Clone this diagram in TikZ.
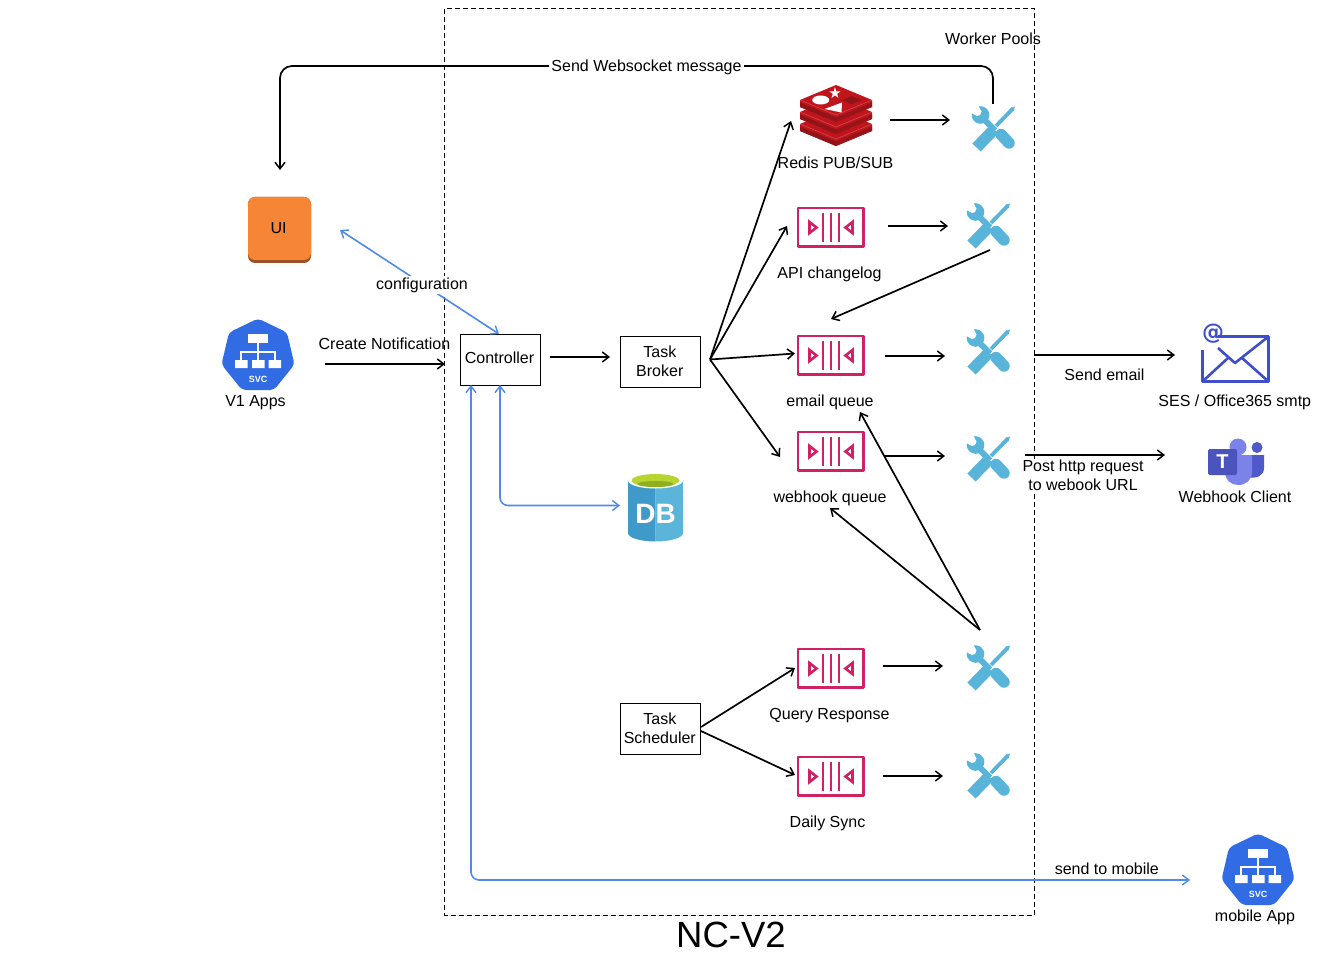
\documentclass[tikz,border=0pt]{standalone}
\usepackage{fontspec}
\setmainfont{Liberation Sans}
\newfontfamily\dejavu{DejaVu Sans}
\usetikzlibrary{arrows.meta}
\definecolor{toolblue}{HTML}{59B4D9}
\definecolor{queuepink}{HTML}{CE2264}
\definecolor{svcblue}{HTML}{326CE5}
\definecolor{linkblue}{HTML}{4F8AEB}
\definecolor{redisred}{HTML}{C1151D}
\definecolor{redisdark}{HTML}{8F1417}
\definecolor{uiorange}{HTML}{F68536}
\definecolor{uidark}{HTML}{9D5025}
\definecolor{mailblue}{HTML}{3F4FCB}
\definecolor{dbleft}{HTML}{3F9AC9}
\definecolor{dbright}{HTML}{5BB4DA}
\definecolor{dbgreen}{HTML}{B8D432}
\definecolor{dbgreendark}{HTML}{8FB01E}
\definecolor{teamslight}{HTML}{7B83EB}
\definecolor{teamsmid}{HTML}{5059C9}
\definecolor{teamsdark}{HTML}{4B53BC}
\tikzset{
 x=1pt,y=-1pt,
 every node/.style={inner sep=0pt,outer sep=0pt},
 lbl/.style={font=\fontsize{16}{19}\selectfont,align=center,text=black},
 boxnode/.style={draw=black,line width=1pt,fill=white,minimum width=80pt,minimum height=51pt},
 conn/.style={draw=black,line width=1.7pt,-{Straight Barb[length=6.5pt,width=10pt,line width=1.5pt]}},
 bluelink/.style={draw=linkblue,line width=1.6pt,{Straight Barb[length=6.5pt,width=10pt,line width=1.4pt]}-{Straight Barb[length=6.5pt,width=10pt,line width=1.4pt]},rounded corners=8pt},
 toolicon/.pic={
  \begin{scope}[shift={(-21,-22.5)},toolblue]
   \fill (8.5,8.5) circle (8.8);
   \fill[white] (-1.5,-1.5) -- (6,-1.5) -- (9.5,5) -- (8,8.5) -- (5,9.5) -- (-1.5,6) -- cycle;
   \draw[line width=6pt] (12,13) -- (23,24);
   \draw[line width=11.5pt,line cap=round] (29,28) -- (37,36.5);
   \draw[line width=3.8pt] (41,2) -- (24,19.5);
   \fill (43,0) -- (41.5,5) -- (38,1.5) -- cycle;
   \draw[line width=11.5pt] (22,23) -- (4.5,41);
  \end{scope}},
 queueicon/.pic={
  \begin{scope}[queuepink]
   \draw[line width=2.8pt,line join=round] (-33,-19) rectangle (32.5,19.5);
   \draw[line width=2.6pt] (-8,-14) -- (-8,15) (0,-14) -- (0,15) (8,-14) -- (8,15);
   \draw[line width=2.6pt,line join=miter] (-21.5,-5) -- (-14.5,0.5) -- (-21.5,6) -- cycle;
   \draw[line width=2.6pt,line join=miter] (21.5,-5) -- (14.5,0.5) -- (21.5,6) -- cycle;
  \end{scope}},
 svcicon/.pic={
  \fill[svcblue,rounded corners=4pt] (0,-37.5) -- (29,-23.5) -- (36.5,8.5) -- (16,34) -- (-16,34) -- (-36.5,8.5) -- (-29,-23.5) -- cycle;
  \fill[white] (-10,-22) rectangle (10,-13.5);
  \fill[white] (-23,4) rectangle (-10.5,12) (-6,4) rectangle (6.5,12) (10.5,4) rectangle (23,12);
  \draw[white,line width=1.2pt] (0,-13.5) -- (0,4) (-17,4) -- (-17,-4) -- (17,-4) -- (17,4);
  \node[text=white,font=\fontsize{9}{10}\selectfont\bfseries] at (0,23) {SVC};
 },
 redislayer/.pic={
  \fill[redisred] (-36,0) -- (0,-15) -- (36,0) -- (36,7) -- (0,22) -- (-36,7) -- cycle;
  \fill[redisdark] (-36,2.5) -- (0,17.5) -- (0,22) -- (-36,7) -- cycle;
  \fill[redisdark!80!redisred] (36,2.5) -- (0,17.5) -- (0,22) -- (36,7) -- cycle;
  \draw[white,opacity=.25,line width=.5pt] (-36,0) -- (0,15) -- (36,0);
 }
}
\begin{document}
\begin{tikzpicture}
\useasboundingbox (0,0) rectangle (1333,976);
\fill[white] (0,0) rectangle (1333,976);

% frame
\draw[black,line width=1pt,dash pattern=on 5pt off 3pt] (444.5,9) rectangle (1034,915);

% icons
\fill[uidark,rounded corners=7pt] (248,197) rectangle (311,263);
\fill[uiorange,rounded corners=7pt] (248,197) rectangle (311,260);
\node[lbl] (ui) at (278.5,228) {UI};
\pic at (258,356) {svcicon};
\pic at (1258,871) {svcicon};
\pic at (836,124) {redislayer};
\pic at (836,112) {redislayer};
\pic at (836,100) {redislayer};
\fill[white] (820.7,100) ellipse [x radius=8.5,y radius=4.5];
\node[text=white,font=\fontsize{15}{15}\selectfont\dejavu] at (835,93) {★};
\fill[white] (824.5,109) -- (842,102.5) -- (841.5,112.5) -- cycle;
\fill[redisdark] (842.7,100) -- (851.7,96) -- (861.7,100) -- (851.7,104.3) -- cycle;

\pic at (831,227) {queueicon};
\pic at (831,355) {queueicon};
\pic at (831,451) {queueicon};
\pic at (831,668) {queueicon};
\pic at (831,776) {queueicon};

\pic at (993,129) {toolicon};
\pic at (988,226) {toolicon};
\pic at (988,352) {toolicon};
\pic at (988,459) {toolicon};
\pic at (988,668) {toolicon};
\pic at (988,776) {toolicon};

% DB
\fill[dbleft] (628,480) -- (628,533) .. controls (628,538) and (641,541.5) .. (655.5,541.5) -- (655.5,480) -- cycle;
\fill[dbright] (683,480) -- (683,533) .. controls (683,538) and (670,541.5) .. (655.5,541.5) -- (655.5,480) -- cycle;
\fill[white] (655.5,480.5) ellipse [x radius=27.5,y radius=8];
\fill[dbgreen] (655.5,480.5) ellipse [x radius=24,y radius=6.5];
\fill[dbgreendark] (655.5,484) ellipse [x radius=18,y radius=3];
\node[text=white,font=\fontsize{28}{28}\selectfont\bfseries] (dbtxt) at (655.5,513.5) {DB};

% envelope
\begin{scope}[mailblue,line width=2.6pt,line join=round]
\draw (1218,336.5) -- (1268.5,336.5) -- (1268.5,381.5) -- (1202.5,381.5) -- (1202.5,350);
\draw (1218,348) -- (1235,363) -- (1268.5,336.5);
\draw (1202.5,381.5) -- (1228,358);
\draw (1268.5,381.5) -- (1242,358);
\node[text=mailblue,font=\fontsize{22}{22}\selectfont\dejavu\bfseries] (atsign) at (1213,334) {@};
\end{scope}

% teams
\fill[teamslight] (1238,447) circle (8.5);
\fill[teamsmid] (1257,447.5) circle (5.5);
\fill[teamsmid] (1248,455) -- (1264,455) -- (1264,468) .. controls (1264,476) and (1256,479) .. (1248,477) -- cycle;
\fill[teamslight] (1225,455) -- (1252,455) -- (1252,472) .. controls (1252,480) and (1246,485) .. (1238,485) .. controls (1231,485) and (1225,480) .. (1225,472) -- cycle;
\fill[teamsdark,rounded corners=1.5pt] (1208,449) rectangle (1237,475);
\node[text=white,font=\fontsize{20}{20}\selectfont\bfseries] (teamst) at (1222.5,462) {T};

% boxes
\node[boxnode] (controller) at (500.5,359.5) {};
\node[lbl] (ctltext) at (499.5,358) {Controller};
\node[boxnode] (broker) at (660.5,361.5) {};
\node[lbl] (brotext) at (659.8,361.5) {Task\\Broker};
\node[boxnode] (scheduler) at (660.5,728.5) {};
\node[lbl] (schtext) at (659.8,728.5) {Task\\Scheduler};

% free ends
\foreach \n/\x/\y in {
 wsstart/993/104, wscorner/993/66, wsmid/280/66, wsend/280/170,
 cnstart/325/364, cnend/445/364,
 ctlout/550/357, brokin/610/357,
 hub/710/359.5, hubredis/791/121, hubapi/787/226, hubemail/795/353.5, hubweb/780/457,
 qa1/890/120, wa1/950/120, qa2/888/226, wa2/948/226, qa3/885/356, wa3/945/356, qa4/885/456, wa4/945/456,
 qa5/883/666, wa5/943/666, qa6/883/776, wa6/943/776,
 wk2/990/250, emailin/831/319,
 wkq/980/630, emailback/860/412, webback/830/508,
 schedout1/701/727, schedout2/701/731, queryin/795/668, dailyin/795/775,
 sesstart/1034/355, sesend/1175/355, hookstart/1025/455, hookend/1165/455,
 uiarrow/340/230, dbstart/500/385, dbcorner/500/505.5, dbin/620/505.5, cfgend/499/334,
 mobstart/471/385, mobcorner/471/880, mobend/1190/880}
 {\coordinate (\n) at (\x,\y);}

% connectors
\draw[conn,rounded corners=12pt] (wsstart) -- (wscorner) -- (wsmid) -- (wsend);
\node[lbl,fill=white,inner xsep=2pt,inner ysep=1pt] (wslabel) at (646.5,67) {Send Websocket message};
\draw[conn] (cnstart) -- (cnend);
\draw[conn] (ctlout) -- (brokin);
\draw[conn] (hub) -- (hubredis);
\draw[conn] (hub) -- (hubapi);
\draw[conn] (hub) -- (hubemail);
\draw[conn] (hub) -- (hubweb);
\draw[conn] (qa1) -- (wa1);
\draw[conn] (qa2) -- (wa2);
\draw[conn] (qa3) -- (wa3);
\draw[conn] (qa4) -- (wa4);
\draw[conn] (qa5) -- (wa5);
\draw[conn] (qa6) -- (wa6);
\draw[conn] (wk2) -- (emailin);
\draw[conn] (wkq) -- (emailback);
\draw[conn] (wkq) -- (webback);
\draw[conn] (schedout1) -- (queryin);
\draw[conn] (schedout2) -- (dailyin);
\draw[conn] (sesstart) -- (sesend);
\draw[conn] (hookstart) -- (hookend);

\draw[bluelink] (uiarrow) -- (cfgend);
\node[lbl,fill=white,inner xsep=2pt,inner ysep=2pt] (cfg) at (422,285) {configuration};
\draw[bluelink] (dbstart) -- (dbcorner) -- (dbin);
\draw[bluelink] (mobstart) -- (mobcorner) -- (mobend);

% labels
\node[lbl] (wp) at (993,38.5) {Worker Pools};
\node[lbl] (redislbl) at (835.5,162.5) {Redis PUB/SUB};
\node[lbl] (apilbl) at (829.5,274) {API changelog};
\node[lbl] (emaillbl) at (830,402) {email queue};
\node[lbl] (weblbl) at (830,498) {webhook queue};
\node[lbl] (querylbl) at (829.5,716) {Query Response};
\node[lbl] (dailylbl) at (827.5,823) {Daily Sync};
\node[lbl] (cnlbl) at (384.5,343.5) {Create Notification};
\node[lbl] (v1lbl) at (255.5,403) {V1 Apps};
\node[lbl] (sendlbl) at (1104.5,374.5) {Send email};
\node[lbl] (seslbl) at (1234.8,402) {SES / Office365 smtp};
\node[lbl,fill=white,inner xsep=1pt,inner ysep=1pt] (postlbl) at (1083,475.5) {Post http request\\to webook URL};
\node[lbl] (hooklbl) at (1235,496.5) {Webhook Client};
\node[lbl] (moblbl) at (1106.8,868.5) {send to mobile};
\node[lbl] (mobapp) at (1255,917) {mobile App};
\node[text=black,font=\fontsize{36.5}{40}\selectfont] (title) at (731,935) {NC-V2};
\end{tikzpicture}
\end{document}
